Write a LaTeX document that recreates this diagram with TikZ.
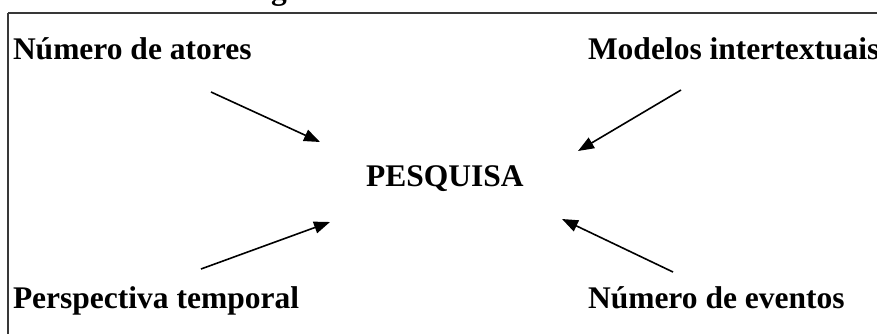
\documentclass[tikz,border=0pt]{standalone}
\usepackage{fontspec}
\setmainfont{Liberation Serif}
\usetikzlibrary{arrows.meta}
\tikzset{
  labeltext/.style={inner sep=0pt, outer sep=0pt, anchor=base west,
    font=\fontsize{31.5}{36}\selectfont\bfseries},
  frame/.style={draw=black!78, line width=2.2pt},
  pointer/.style={draw=black, line width=1.6pt,
    -{Triangle[length=16pt,width=12pt]}}
}
\begin{document}
\begin{tikzpicture}[x=1pt,y=-1pt]
  \useasboundingbox (0,0) rectangle (877,333);
  \clip (0,0) rectangle (877,333);
  % caption line, cut off by the page edge
  \node[labeltext] (caption) at (243,-0.5) {Figura 1 – Estrutura analítica};
  % open frame: top and left edges
  \draw[frame] (8,13) -- (880,13);
  \draw[frame] (8,13) -- (8,336);
  % factors and the central theme
  \node[labeltext] (atores)   at (13,59)  {Número de atores};
  \node[labeltext] (modelos)  at (588,59) {Modelos intertextuais};
  \node[labeltext] (pesquisa) at (366,186) {PESQUISA};
  \node[labeltext] (temporal) at (13,308) {Perspectiva temporal};
  \node[labeltext] (eventos)  at (588,308) {Número de eventos};
  % arrow ends
  \coordinate (a1) at (211,92);   \coordinate (a2) at (320,142);
  \coordinate (m1) at (681,90);   \coordinate (m2) at (578,151);
  \coordinate (t1) at (201,269);  \coordinate (t2) at (330,222);
  \coordinate (e1) at (673,272);  \coordinate (e2) at (562,219);
  \draw[pointer] (a1) -- (a2);
  \draw[pointer] (m1) -- (m2);
  \draw[pointer] (t1) -- (t2);
  \draw[pointer] (e1) -- (e2);
\end{tikzpicture}
\end{document}
